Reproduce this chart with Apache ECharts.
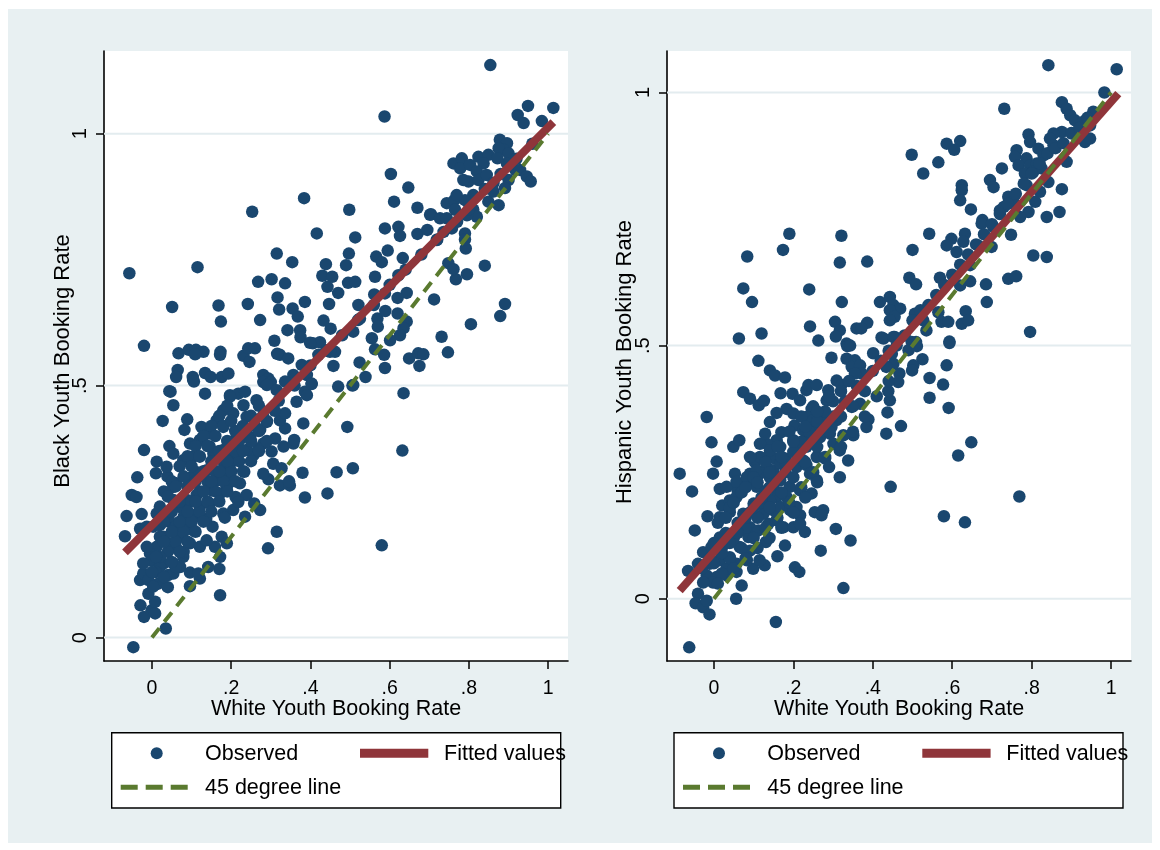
<!DOCTYPE html>
<html>
<head>
<meta charset="utf-8">
<script src="https://cdn.jsdelivr.net/npm/echarts@6/dist/echarts.min.js"></script>
<style>
  html, body { margin: 0; padding: 0; background: #ffffff; }
  #bg { position: absolute; left: 8px; top: 9px; width: 1144px; height: 834px; background: #e8f0f2; }
  #chart { position: absolute; left: 0; top: 0; width: 1160px; height: 850px; }
</style>
</head>
<body>
<div id="bg"></div>
<div id="chart"></div>
<script>
// ---- tick values and labels ----
const xTicks = [0, 0.2, 0.4, 0.6, 0.8, 1];
const xTickLabels = ['0', '.2', '.4', '.6', '.8', '1'];
const yTicks = [0, 0.5, 1];
const yTickLabels = ['0', '.5', '1'];

// ---- left panel: white vs black youth booking rates ----
const blackObsUpper = [
  [0.587,1.034],[0.949,1.055],[1.013,1.051],[0.923,1.037],[0.938,1.021],[0.984,1.025],[0.854,1.136],[-0.057,0.723],
  [0.253,0.845],[0.384,0.872],[0.498,0.849],[0.416,0.802],[0.603,0.920],[0.647,0.893],[0.611,0.865],[0.670,0.853],
  [0.704,0.840],[0.513,0.794],[0.315,0.762],[0.354,0.745],[0.115,0.735],[0.051,0.656],[-0.020,0.579],[0.168,0.659],
  [0.174,0.627],[0.242,0.662],[0.273,0.630],[0.268,0.706],[0.302,0.711],[0.336,0.703],[0.317,0.675],[0.321,0.651],
  [0.355,0.653],[0.386,0.666],[0.368,0.637],[0.342,0.610],[0.374,0.610],[0.375,0.596],[0.309,0.589],[0.439,0.741],
  [0.430,0.718],[0.443,0.696],[0.455,0.716],[0.470,0.684],[0.447,0.662],[0.433,0.629],[0.451,0.613],[0.406,0.584],
  [0.424,0.586],[0.462,0.567],[0.490,0.739],[0.495,0.704],[0.513,0.706],[0.497,0.762],[0.521,0.660],[0.525,0.633],
  [0.508,0.607],[0.458,0.539],[0.470,0.498],[0.506,0.500],[0.524,0.546],[0.539,0.517],[0.555,0.594],[0.563,0.572],
  [0.586,0.561],[0.588,0.535],[0.563,0.716],[0.566,0.756],[0.580,0.745],[0.588,0.812],[0.595,0.768],[0.561,0.681],
  [0.588,0.683],[0.569,0.633],[0.589,0.648],[0.570,0.617],[0.622,0.815],[0.626,0.797],[0.633,0.753],[0.622,0.719],
  [0.643,0.684],[0.620,0.674],[0.620,0.643],[0.643,0.627],[0.635,0.614],[0.626,0.600],[0.601,0.590],[0.649,0.554],
  [0.672,0.564],[0.685,0.562],[0.675,0.539],[0.635,0.485],[0.731,0.597],[0.747,0.566],[0.712,0.671],[0.805,0.622],
  [0.840,0.738],[0.795,0.721],[0.767,0.711],[0.748,0.743],[0.761,0.731],[0.792,0.772],[0.790,0.802],[0.790,0.790],
  [0.891,0.662],[0.879,0.638],[0.670,0.801],[0.695,0.809],[0.702,0.839],[0.727,0.832],[0.744,0.862],[0.763,0.868],
  [0.757,0.812],[0.736,0.805],[0.719,0.789],[0.761,0.941],[0.782,0.951],[0.778,0.931],[0.803,0.938],[0.824,0.954],
  [0.849,0.958],[0.837,0.941],[0.820,0.925],[0.799,0.905],[0.786,0.908],[0.824,0.908],[0.845,0.918],[0.862,0.902],
  [0.878,0.988],[0.896,0.981],[0.887,0.968],[0.875,0.971],[0.900,0.961],[0.896,0.941],[0.872,0.951],[0.917,0.928],
  [0.929,0.928],[0.946,0.915],[0.956,0.905],[0.900,0.908],[0.891,0.892],[0.849,0.865],[0.875,0.858],[0.862,0.885],
  [0.811,0.878],[0.790,0.868],[0.769,0.878],[0.811,0.849],[0.820,0.835],[0.795,0.838],[0.765,0.849],[0.744,0.832],
  [0.770,0.825]
];
const blackObsMiddle = [
  [0.067,0.564],[0.093,0.571],[0.111,0.571],[0.130,0.567],[0.109,0.562],[0.173,0.567],[0.172,0.561],[0.065,0.531],
  [0.061,0.517],[0.104,0.511],[0.103,0.517],[0.134,0.525],[0.148,0.517],[0.176,0.517],[0.193,0.524],[0.231,0.559],
  [0.243,0.574],[0.260,0.574],[0.246,0.547],[0.047,0.488],[0.134,0.484],[0.197,0.481],[0.218,0.484],[0.235,0.488],
  [0.281,0.521],[0.294,0.514],[0.281,0.507],[0.300,0.507],[0.323,0.561],[0.344,0.554],[0.316,0.563],[0.357,0.521],
  [0.336,0.508],[0.378,0.541],[0.391,0.521],[0.403,0.504],[0.386,0.488],[0.399,0.585],[0.420,0.561],[0.449,0.567]
];
const blackObsLower = [
  [0.044,0.489],[0.054,0.461],[0.027,0.430],[0.089,0.433],[0.106,0.508],[0.197,0.478],[0.231,0.461],[0.264,0.471],
  [0.290,0.501],[0.315,0.491],[0.365,0.468],[0.391,0.481],[0.403,0.503],[0.508,0.501],[0.493,0.418],[0.632,0.371],
  [0.507,0.336],[0.466,0.328],[0.443,0.286],[0.386,0.278],[0.380,0.327],[0.580,0.183],[0.315,0.210],[0.293,0.177],
  [0.172,0.084],[0.170,0.136],[0.142,0.140],[0.096,0.129],[0.096,0.102],[0.121,0.117],[0.035,0.018],[-0.047,-0.019],
  [-0.020,0.041],[-0.001,0.054],[-0.029,0.064],[0.008,0.071],[-0.030,0.114],[-0.022,0.127],[-0.009,0.087],[0.016,0.107],
  [0.041,0.124],[0.054,0.127],[0.029,0.147],[-0.001,0.153],[-0.022,0.147],[-0.068,0.201],[-0.064,0.241],[-0.051,0.283],
  [-0.039,0.279],[-0.037,0.318],[-0.020,0.372],[-0.026,0.245],[-0.030,0.216],[0.012,0.349],[0.044,0.380],[0.010,0.326],
  [0.039,0.320],[0.082,0.412],[0.096,0.385],[0.125,0.418],[0.146,0.405],[0.163,0.431],[0.180,0.418],[0.180,0.451],
  [0.205,0.445],[0.239,0.438],[0.273,0.412],[0.281,0.385],[0.256,0.362],[0.239,0.372],[0.302,0.369],[0.311,0.395],
  [0.332,0.379],[0.336,0.415],[0.357,0.385],[0.323,0.431],[0.290,0.428],[0.306,0.345],[0.294,0.314],[0.327,0.336],
  [0.323,0.302],[0.348,0.302],[0.346,0.310],[0.233,0.329],[0.211,0.279],[0.239,0.283],[0.258,0.266],[0.273,0.253],
  [0.235,0.240],[0.205,0.253],[0.180,0.246],[0.184,0.238],[0.153,0.220],[0.176,0.200],[0.189,0.187],[0.159,0.180],
  [0.172,0.160],[0.117,0.127],[0.079,0.160],[0.062,0.177],[0.045,0.187],[0.071,0.200],[0.096,0.187],[0.029,0.200],
  [0.012,0.180],[-0.005,0.167],[-0.013,0.180],[0.045,0.230],[0.062,0.220],[0.088,0.220],[0.104,0.213],[0.096,0.246],
  [0.121,0.240],[0.137,0.236],[0.071,0.259],[0.054,0.273],[0.088,0.273],[0.113,0.283],[0.121,0.259],[0.146,0.266],
  [0.151,0.292],[0.172,0.286],[0.163,0.312],[0.189,0.299],[0.197,0.319],[0.222,0.306],[0.180,0.332],[0.197,0.345],
  [0.211,0.352],[0.138,0.332],[0.113,0.328],[0.096,0.317],[0.062,0.306],[0.054,0.299],[0.079,0.352],[0.104,0.359],
  [0.121,0.359],[0.155,0.365],[0.180,0.372],[0.205,0.379],[0.214,0.398],[0.231,0.405],[0.248,0.398],[0.121,0.392],
  [0.146,0.379],[0.054,0.365],[0.037,0.339],[-0.013,0.220],[0.003,0.220],[0.020,0.223],[0.012,0.246],[0.037,0.246],
  [0.121,0.180],[0.138,0.193],[0.054,0.147],[0.071,0.140],[0.020,0.140],[-0.009,0.114],[0.003,0.101],[0.008,0.048],
  [0.218,0.269],[0.281,0.325],[0.336,0.445],[0.382,0.425],[0.359,0.392],[0.268,0.375]
];
const blackObsCore = [
  [0.02,0.20],[0.03,0.23],[0.05,0.25],[0.06,0.22],[0.07,0.27],[0.08,0.24],[0.09,0.30],[0.10,0.27],[0.11,0.31],
  [0.12,0.29],[0.13,0.33],[0.14,0.31],[0.15,0.35],[0.16,0.33],[0.17,0.37],[0.18,0.35],[0.19,0.39],[0.20,0.37],
  [0.21,0.41],[0.22,0.39],[0.23,0.42],[0.24,0.40],[0.25,0.44],[0.26,0.42],[0.27,0.46],[0.28,0.44],[0.04,0.17],
  [0.06,0.19],[0.08,0.21],[0.10,0.23],[0.12,0.25],[0.14,0.27],[0.16,0.29],[0.18,0.31],[0.20,0.33],[0.22,0.35],
  [0.03,0.29],[0.05,0.31],[0.07,0.34],[0.09,0.36],[0.11,0.38],[0.13,0.40],[0.15,0.42],[0.17,0.44],[0.19,0.46],
  [0.01,0.13],[0.02,0.16],[0.04,0.10],[0.06,0.14],[0.08,0.17],[0.32,0.47],[0.36,0.50],[0.40,0.54],[0.44,0.57],
  [0.48,0.60],[0.52,0.63],[0.56,0.66],[0.60,0.70],[0.64,0.73],[0.68,0.76],[0.72,0.79],[0.76,0.82],[0.80,0.85],
  [0.84,0.89],[0.88,0.92],[0.92,0.95],[0.96,0.98],
  [0.00,0.13],[0.01,0.16],[0.03,0.12],[0.05,0.15],[0.07,0.17],[0.09,0.19],[0.11,0.21],[0.13,0.23],[0.15,0.25],
  [0.17,0.27],[0.19,0.29],[0.21,0.31],[0.23,0.33],[0.25,0.35],[0.27,0.37],[0.29,0.39],[0.02,0.26],[0.04,0.28],
  [0.06,0.30],[0.08,0.32],[0.10,0.34],[0.12,0.36],[0.14,0.38],[0.16,0.40],[0.18,0.42],[0.20,0.43],[0.03,0.19],
  [0.05,0.21],[0.07,0.23],[0.09,0.25],[0.11,0.27],[0.13,0.29],[0.15,0.31],[0.17,0.33],[0.19,0.35],[0.21,0.37],
  [0.23,0.37],[0.25,0.39],[0.27,0.41],[0.29,0.43],[0.31,0.45]
];
const blackFit = [[-0.068, 0.169], [1.013, 1.023]];

// ---- right panel: white vs hispanic youth booking rates ----
const hispanicObsUpper = [
  [0.842,1.054],[1.014,1.046],[0.983,1.000],[0.731,0.968],[0.876,0.981],[0.888,0.968],[0.897,0.955],[0.909,0.945],
  [0.930,0.942],[0.955,0.962],[0.947,0.935],[0.918,0.919],[0.901,0.919],[0.876,0.922],[0.855,0.919],[0.846,0.909],
  [0.855,0.896],[0.792,0.917],[0.796,0.902],[0.817,0.889],[0.830,0.876],[0.762,0.886],[0.758,0.873],[0.787,0.870],
  [0.767,0.856],[0.796,0.856],[0.813,0.860],[0.783,0.840],[0.804,0.843],[0.825,0.850],[0.888,0.863],[0.934,0.902],
  [0.947,0.909],[0.725,0.850],[0.695,0.827],[0.704,0.813],[0.787,0.817],[0.842,0.823],[0.876,0.809],[0.821,0.804],
  [0.809,0.784],[0.741,0.794],[0.754,0.784],[0.720,0.767],[0.730,0.774],[0.792,0.764],[0.771,0.754],[0.838,0.754],
  [0.870,0.764],[0.624,0.817],[0.624,0.807],[0.620,0.787],[0.647,0.769],[0.498,0.877],[0.586,0.899],[0.620,0.904],
  [0.605,0.887],[0.565,0.862],[0.527,0.840],[0.676,0.748],[0.674,0.741],[0.704,0.734],[0.748,0.719],[0.542,0.721],
  [0.598,0.711],[0.632,0.721],[0.586,0.698],[0.628,0.705],[0.611,0.685],[0.665,0.698],[0.699,0.695],[0.500,0.689],
  [0.804,0.678],[0.838,0.675],[0.741,0.632],[0.761,0.637],[0.645,0.659],[0.645,0.627],[0.685,0.621],[0.687,0.586],
  [0.620,0.619],[0.569,0.634],[0.492,0.634],[0.509,0.621],[0.084,0.676],[0.190,0.721],[0.174,0.689],[0.321,0.717],
  [0.317,0.664],[0.386,0.666],[0.074,0.613],[0.096,0.586],[0.240,0.611],[0.322,0.586],[0.063,0.514],[0.120,0.524],
  [0.242,0.538],[0.263,0.510],[0.305,0.547],[0.317,0.530],[0.307,0.518],[0.359,0.534],[0.386,0.545],[0.371,0.534],
  [0.418,0.586],[0.443,0.596],[0.452,0.580],[0.469,0.573],[0.443,0.570],[0.455,0.557],[0.443,0.550],[0.506,0.563],
  [0.527,0.550],[0.535,0.530],[0.427,0.514],[0.455,0.517],[0.565,0.566],[0.573,0.547],[0.590,0.547],[0.593,0.508],
  [0.624,0.543],[0.634,0.568],[0.640,0.550],[0.796,0.527],[0.334,0.504],[0.509,0.507]
];
const hispanicObsLower = [
  [0.336,0.499],[0.343,0.500],[0.296,0.476],[0.334,0.474],[0.355,0.471],[0.347,0.458],[0.368,0.461],[0.372,0.445],
  [0.355,0.445],[0.401,0.485],[0.422,0.516],[0.452,0.517],[0.498,0.507],[0.490,0.491],[0.511,0.499],[0.525,0.473],
  [0.502,0.461],[0.499,0.451],[0.467,0.445],[0.464,0.428],[0.452,0.464],[0.448,0.484],[0.434,0.458],[0.593,0.505],
  [0.586,0.461],[0.577,0.423],[0.543,0.436],[0.543,0.397],[0.591,0.377],[0.648,0.309],[0.615,0.283],[0.769,0.202],
  [0.579,0.163],[0.632,0.151],[0.445,0.221],[0.437,0.368],[0.434,0.326],[0.471,0.341],[0.443,0.392],[0.439,0.410],
  [0.317,0.240],[0.338,0.273],[0.307,0.138],[0.344,0.115],[0.269,0.095],[0.326,0.021],[0.156,-0.046],[-0.062,-0.096],
  [-0.086,0.247],[-0.055,0.212],[-0.048,0.135],[-0.018,0.359],[-0.006,0.309],[0.007,0.271],[-0.002,0.247],[-0.016,0.163],
  [0.049,0.300],[0.064,0.313],[0.053,0.247],[0.059,0.216],[0.074,0.408],[0.091,0.395],[0.112,0.470],[0.113,0.382],
  [0.126,0.391],[0.141,0.451],[0.154,0.441],[0.179,0.437],[0.168,0.406],[0.198,0.405],[0.217,0.392],[0.183,0.375],
  [0.200,0.366],[0.158,0.367],[0.141,0.349],[0.203,0.342],[0.233,0.412],[0.238,0.422],[0.259,0.422],[0.288,0.412],
  [0.309,0.431],[0.321,0.422],[0.284,0.392],[0.246,0.375],[0.259,0.366],[0.233,0.359],[0.278,0.356],[0.309,0.353],
  [0.347,0.379],[0.368,0.385],[0.389,0.354],[0.384,0.339],[0.351,0.323],[0.326,0.323],[0.317,0.293],[0.301,0.306],
  [0.280,0.277],[0.259,0.280],[0.233,0.319],[0.200,0.313],[0.170,0.329],[0.158,0.313],[0.133,0.306],[0.116,0.306],
  [0.129,0.326],[0.103,0.270],[0.129,0.277],[0.154,0.277],[0.179,0.277],[0.208,0.260],[0.233,0.264],[0.242,0.247],
  [0.259,0.234],[0.246,0.208],[0.217,0.214],[0.191,0.221],[0.167,0.234],[0.141,0.240],[0.116,0.247],[0.091,0.247],
  [0.083,0.227],[0.108,0.221],[0.133,0.214],[0.158,0.201],[0.183,0.201],[0.208,0.181],[0.217,0.165],[0.254,0.171],
  [0.275,0.175],[0.271,0.165],[0.229,0.132],[0.179,0.105],[0.160,0.084],[0.131,0.112],[0.128,0.066],[0.099,0.059],
  [0.115,0.076],[0.204,0.062],[0.215,0.053],[0.070,0.026],[0.056,0.000],[0.021,0.184],[0.040,0.194],[0.057,0.201],
  [0.015,0.161],[0.040,0.171],[0.074,0.168],[0.091,0.141],[0.066,0.135],[0.040,0.128],[0.015,0.121],[-0.027,0.092],
  [-0.006,0.102],[-0.065,0.055],[-0.040,0.069],[-0.011,0.069],[0.015,0.076],[0.040,0.082],[0.065,0.102],[0.091,0.095],
  [0.083,0.076],[-0.018,0.046],[0.007,0.043],[0.032,0.046],[0.057,0.053],[-0.040,0.010],[-0.046,-0.009],[-0.027,-0.017],
  [-0.011,-0.031],[-0.018,-0.004],[-0.002,0.032],[-0.027,0.032],[0.032,0.059],[0.057,0.069],[0.087,0.122],[0.112,0.135],
  [0.137,0.148],[0.158,0.155],[0.149,0.175],[0.125,0.168],[0.100,0.188],[0.116,0.188],[0.141,0.194],[0.167,0.181],
  [0.192,0.175],[0.175,0.141],[0.200,0.141],[0.217,0.148],[0.015,0.217],[0.032,0.221],[0.057,0.231],[0.083,0.240],
  [0.108,0.254],[0.133,0.260],[0.149,0.254],[0.167,0.267],[0.141,0.293],[0.167,0.300],[0.116,0.280],[0.091,0.280],
  [0.225,0.273],[0.233,0.300],[0.208,0.293],[0.250,0.333],[0.225,0.333],[0.267,0.319],[0.292,0.326],[0.296,0.339],
  [0.250,0.353]
];
const hispanicObsCore = [
  [-0.03,0.06],[-0.01,0.08],[0.00,0.11],[0.02,0.10],[0.03,0.13],[0.05,0.12],[0.06,0.15],[0.08,0.14],[0.09,0.17],
  [0.11,0.16],[0.12,0.19],[0.14,0.18],[0.15,0.22],[0.17,0.21],[0.18,0.25],[0.20,0.24],[0.21,0.28],[0.23,0.27],
  [0.24,0.31],[0.26,0.30],[0.27,0.33],[0.29,0.33],[0.30,0.36],[0.32,0.36],[0.33,0.39],[0.35,0.38],[0.36,0.42],
  [0.38,0.41],[0.02,0.05],[0.04,0.08],[0.07,0.10],[0.10,0.12],[0.13,0.14],[0.16,0.16],[0.19,0.19],[0.22,0.22],
  [0.25,0.25],[0.28,0.28],[0.01,0.15],[0.04,0.18],[0.07,0.21],[0.10,0.24],[0.13,0.27],[0.16,0.30],[0.19,0.33],
  [0.22,0.36],[0.25,0.38],[0.40,0.45],[0.42,0.47],[0.44,0.49],[0.46,0.50],[0.48,0.52],[0.50,0.55],[0.52,0.57],
  [0.54,0.58],[0.56,0.60],[0.58,0.62],[0.60,0.64],[0.62,0.66],[0.64,0.68],[0.66,0.70],[0.68,0.72],[0.70,0.74],
  [0.72,0.76],[0.74,0.78],[0.76,0.80],[0.78,0.82],[0.80,0.84],[0.82,0.86],[0.84,0.88],[0.86,0.89],[0.88,0.90],
  [0.90,0.92],[0.92,0.93],[0.94,0.95],
  [0.00,0.07],[0.02,0.09],[0.04,0.11],[0.06,0.13],[0.08,0.16],[0.10,0.18],[0.12,0.20],[0.14,0.22],[0.16,0.24],
  [0.18,0.27],[0.20,0.29],[0.22,0.31],[0.24,0.33],[0.26,0.35],[0.28,0.37],[0.30,0.39],[0.32,0.41],[0.34,0.43],
  [0.03,0.16],[0.05,0.19],[0.08,0.22],[0.11,0.23],[0.14,0.25],[0.17,0.28],[0.20,0.31],[0.23,0.34],[0.26,0.37],
  [0.29,0.40],[0.01,0.03],[0.05,0.06],[0.08,0.08],[0.11,0.10],[0.14,0.12],[0.17,0.14],[0.20,0.17],[0.23,0.20],
  [0.26,0.23],[0.29,0.26],[0.32,0.30],[0.35,0.33],[0.38,0.36],[0.41,0.40],[0.44,0.43]
];
const hispanicFit = [[-0.086, 0.016], [1.018, 0.998]];

// 45 degree reference line (y = x)
const diagonal = [[0, 0], [1, 1]];

const blackObs = blackObsUpper.concat(blackObsMiddle, blackObsLower, blackObsCore);
const hispanicObs = hispanicObsUpper.concat(hispanicObsLower, hispanicObsCore);

// ---- styling ----
const FONT = '"Liberation Sans", Arial, sans-serif';
const NAVY = '#1a476f';
const MAROON = '#8f353a';
const GREEN = '#5a7a2f';
const GRIDLINE = '#e3ecef';
const TEXT_SIZE = 21.5;

const panels = [
  { grid: { left: 104, top: 51, width: 464, height: 610 }, xRange: [-0.121, 1.05], yRange: [-0.0465, 1.164],
    yTitle: 'Black Youth Booking Rate', yTitlePos: [63, 361], obs: blackObs, fit: blackFit, legendLeft: 111.7 },
  { grid: { left: 667, top: 51, width: 464, height: 610 }, xRange: [-0.118, 1.05], yRange: [-0.123, 1.082],
    yTitle: 'Hispanic Youth Booking Rate', yTitlePos: [625, 362], obs: hispanicObs, fit: hispanicFit, legendLeft: 674 }
];

function labelFor(values, labels) {
  return function (v) {
    const i = values.findIndex(t => Math.abs(t - v) < 1e-9);
    return i < 0 ? '' : labels[i];
  };
}

const grids = [], xAxes = [], yAxes = [], series = [], graphics = [];

panels.forEach((p, i) => {
  grids.push(Object.assign({ show: true, backgroundColor: '#ffffff', borderWidth: 0, containLabel: false }, p.grid));
  xAxes.push({
    type: 'value', gridIndex: i, min: p.xRange[0], max: p.xRange[1],
    name: 'White Youth Booking Rate', nameLocation: 'middle', nameGap: 37, nameMoveOverlap: false,
    nameTextStyle: { fontFamily: FONT, fontSize: TEXT_SIZE, color: '#000' },
    axisLine: { show: true, onZero: false, lineStyle: { color: '#000', width: 1.6 } },
    axisTick: { show: true, customValues: xTicks, length: 8, lineStyle: { color: '#000', width: 1.5 } },
    axisLabel: { customValues: xTicks, formatter: labelFor(xTicks, xTickLabels), fontFamily: FONT, fontSize: 19.5, color: '#000', margin: 18 },
    splitLine: { show: false }
  });
  yAxes.push({
    type: 'value', gridIndex: i, min: p.yRange[0], max: p.yRange[1],
    axisLine: { show: true, onZero: false, lineStyle: { color: '#000', width: 1.6 } },
    axisTick: { show: true, customValues: yTicks, length: 8, lineStyle: { color: '#000', width: 1.5 } },
    axisLabel: { customValues: yTicks, formatter: labelFor(yTicks, yTickLabels), rotate: 90, fontFamily: FONT, fontSize: 20, color: '#000', margin: 14 },
    splitLine: { show: false }
  });

  // horizontal reference lines at the y ticks
  yTicks.forEach(v => {
    series.push({
      type: 'line', xAxisIndex: i, yAxisIndex: i, silent: true, symbol: 'none', z: 1,
      data: [[p.xRange[0], v], [p.xRange[1], v]],
      lineStyle: { color: GRIDLINE, width: 2 }
    });
  });

  series.push({
    name: 'Observed', type: 'scatter', xAxisIndex: i, yAxisIndex: i, z: 3,
    data: p.obs, symbol: 'circle', symbolSize: 12.5,
    itemStyle: { color: NAVY, opacity: 1 }
  });
  series.push({
    name: 'Fitted values', type: 'line', xAxisIndex: i, yAxisIndex: i, z: 4,
    data: p.fit, symbol: 'none',
    lineStyle: { color: MAROON, width: 8, cap: 'butt' }
  });
  series.push({
    name: '45 degree line', type: 'line', xAxisIndex: i, yAxisIndex: i, z: 5,
    data: diagonal, symbol: 'none',
    lineStyle: { color: GREEN, width: 4, type: [12, 8], cap: 'butt' }
  });

  // y-axis title, rotated
  graphics.push({
    type: 'text', x: p.yTitlePos[0], y: p.yTitlePos[1], rotation: Math.PI / 2, z: 10,
    style: { text: p.yTitle, font: '22px ' + FONT, fill: '#000', align: 'center', verticalAlign: 'middle' }
  });

  // legend box
  const L = p.legendLeft;
  const legendFont = TEXT_SIZE + 'px ' + FONT;
  graphics.push({ type: 'rect', z: 10, shape: { x: L, y: 732.7, width: 449, height: 75.3 },
    style: { fill: '#ffffff', stroke: '#000', lineWidth: 1.4 } });
  graphics.push({ type: 'circle', z: 11, shape: { cx: L + 45, cy: 753.3, r: 6 }, style: { fill: NAVY } });
  graphics.push({ type: 'text', z: 11, x: L + 93.3, y: 754,
    style: { text: 'Observed', font: legendFont, fill: '#000', align: 'left', verticalAlign: 'middle' } });
  graphics.push({ type: 'line', z: 11, shape: { x1: L + 248.3, y1: 753.3, x2: L + 316.6, y2: 753.3 },
    style: { stroke: MAROON, lineWidth: 9 } });
  graphics.push({ type: 'text', z: 11, x: L + 332.3, y: 754,
    style: { text: 'Fitted values', font: legendFont, fill: '#000', align: 'left', verticalAlign: 'middle' } });
  graphics.push({ type: 'line', z: 11, shape: { x1: L + 9, y1: 787.3, x2: L + 76.6, y2: 787.3 },
    style: { stroke: GREEN, lineWidth: 5, lineDash: [17, 8] } });
  graphics.push({ type: 'text', z: 11, x: L + 93.3, y: 788,
    style: { text: '45 degree line', font: legendFont, fill: '#000', align: 'left', verticalAlign: 'middle' } });
});

const chart = echarts.init(document.getElementById('chart'), null, { renderer: 'canvas' });
chart.setOption({
  animation: false,
  backgroundColor: 'transparent',
  textStyle: { fontFamily: FONT },
  grid: grids,
  xAxis: xAxes,
  yAxis: yAxes,
  series: series,
  graphic: graphics
});
</script>
</body>
</html>
